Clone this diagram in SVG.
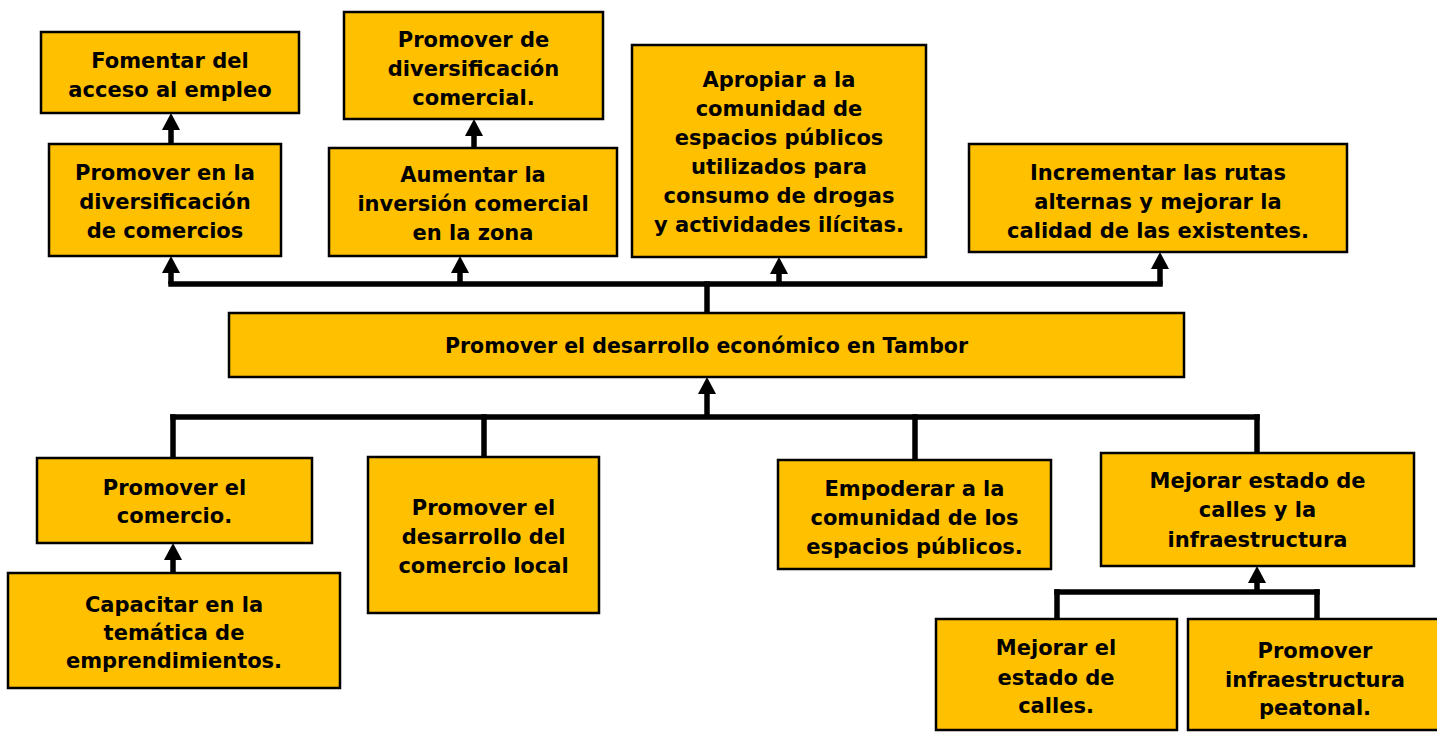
<svg xmlns="http://www.w3.org/2000/svg" width="1437" height="732" viewBox="0 0 1437 732">
<style>
.box{fill:#FFC000;stroke:#000;stroke-width:2.5}
.t{font-family:"DejaVu Sans","Liberation Sans",sans-serif;font-weight:bold;font-size:21px;fill:#000;text-anchor:middle}
.c{font-size:20.5px}
.ln{fill:none;stroke:#000;stroke-width:5.5;stroke-linecap:square}
.ar{fill:none;stroke:#000;stroke-width:5.5;marker-end:url(#ah)}
</style>
<defs>
<marker id="ah" markerUnits="userSpaceOnUse" markerWidth="18" markerHeight="18" viewBox="0 0 18 18" refX="9" refY="9" orient="auto">
<path d="M0 0 L17 9 L0 18 Z" fill="#000"/>
</marker>
</defs>
<rect width="1437" height="732" fill="#fff"/>
<g id="connectors">
<path class="ln" d="M707 313 V284"/>
<path class="ln" d="M171 284 H1160"/>
<path class="ar" d="M171 284 V264"/>
<path class="ar" d="M460 284 V264"/>
<path class="ar" d="M779 284 V265"/>
<path class="ar" d="M1160 284 V260"/>
<path class="ar" d="M171 144 V121"/>
<path class="ar" d="M474 148 V127"/>
<path class="ln" d="M173 417 H1257"/>
<path class="ln" d="M173 417 V457"/>
<path class="ln" d="M484 417 V456"/>
<path class="ln" d="M915 417 V459"/>
<path class="ln" d="M1257 417 V452"/>
<path class="ar" d="M707 417 V385"/>
<path class="ar" d="M173 573 V551"/>
<path class="ln" d="M1057 592 H1317"/>
<path class="ln" d="M1057 592 V618"/>
<path class="ln" d="M1317 592 V618"/>
<path class="ar" d="M1257 592 V574"/>
</g>
<g id="n1">
<rect class="box" x="41" y="32" width="258" height="81"/>
<text class="t" x="170" y="68">Fomentar del</text>
<text class="t" x="170" y="97">acceso al empleo</text>
</g>
<g id="n2">
<rect class="box" x="49" y="144" width="232" height="112"/>
<text class="t" x="165" y="180">Promover en la</text>
<text class="t" x="165" y="209">diversificación</text>
<text class="t" x="165" y="238">de comercios</text>
</g>
<g id="n3">
<rect class="box" x="344" y="12" width="259" height="107"/>
<text class="t" x="473.5" y="47">Promover de</text>
<text class="t" x="473.5" y="76">diversificación</text>
<text class="t" x="473.5" y="105">comercial.</text>
</g>
<g id="n4">
<rect class="box" x="329" y="148" width="288" height="108"/>
<text class="t" x="473" y="182">Aumentar la</text>
<text class="t" x="473" y="211">inversión comercial</text>
<text class="t" x="473" y="240">en la zona</text>
</g>
<g id="n5">
<rect class="box" x="632" y="45" width="294" height="212"/>
<text class="t" x="779" y="87">Apropiar a la</text>
<text class="t" x="779" y="116">comunidad de</text>
<text class="t" x="779" y="145">espacios públicos</text>
<text class="t" x="779" y="174">utilizados para</text>
<text class="t" x="779" y="203">consumo de drogas</text>
<text class="t" x="779" y="232">y actividades ilícitas.</text>
</g>
<g id="n6">
<rect class="box" x="969" y="144" width="378" height="108"/>
<text class="t" x="1158" y="180">Incrementar las rutas</text>
<text class="t" x="1158" y="209">alternas y mejorar la</text>
<text class="t" x="1158" y="238">calidad de las existentes.</text>
</g>
<g id="n7">
<rect class="box" x="229" y="313" width="955" height="64"/>
<text class="t c" x="706.5" y="353">Promover el desarrollo económico en Tambor</text>
</g>
<g id="n8">
<rect class="box" x="37" y="458" width="275" height="85"/>
<text class="t" x="174.5" y="495">Promover el</text>
<text class="t" x="174.5" y="523">comercio.</text>
</g>
<g id="n9">
<rect class="box" x="8" y="573" width="332" height="115"/>
<text class="t" x="174" y="612">Capacitar en la</text>
<text class="t" x="174" y="640">temática de</text>
<text class="t" x="174" y="668">emprendimientos.</text>
</g>
<g id="n10">
<rect class="box" x="368" y="457" width="231" height="156"/>
<text class="t" x="483.5" y="515">Promover el</text>
<text class="t" x="483.5" y="544">desarrollo del</text>
<text class="t" x="483.5" y="573">comercio local</text>
</g>
<g id="n11">
<rect class="box" x="778" y="460" width="273" height="109"/>
<text class="t" x="914.5" y="496">Empoderar a la</text>
<text class="t" x="914.5" y="525">comunidad de los</text>
<text class="t" x="914.5" y="554">espacios públicos.</text>
</g>
<g id="n12">
<rect class="box" x="1101" y="453" width="313" height="113"/>
<text class="t" x="1257.5" y="488">Mejorar estado de</text>
<text class="t" x="1257.5" y="517">calles y la</text>
<text class="t" x="1257.5" y="547">infraestructura</text>
</g>
<g id="n13">
<rect class="box" x="936" y="619" width="241" height="111"/>
<text class="t" x="1056" y="655">Mejorar el</text>
<text class="t" x="1056" y="685">estado de</text>
<text class="t" x="1056" y="713">calles.</text>
</g>
<g id="n14">
<rect class="box" x="1188" y="619" width="260" height="111"/>
<text class="t" x="1315" y="658">Promover</text>
<text class="t" x="1315" y="687">infraestructura</text>
<text class="t" x="1315" y="715">peatonal.</text>
</g>
</svg>
